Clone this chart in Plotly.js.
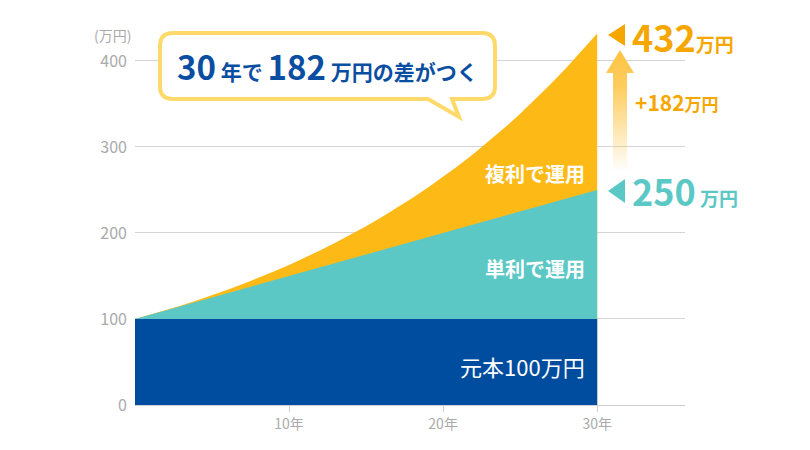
<!DOCTYPE html>
<html><head><meta charset="utf-8">
<script src="https://cdn.plot.ly/plotly-3.0.1.min.js"></script>
<style>body{margin:0;background:#fff}#c{width:810px;height:450px}</style>
</head><body><div id="c"></div>
<script>
// Data
const years = [0,1,2,3,4,5,6,7,8,9,10,11,12,13,14,15,16,17,18,19,20,21,22,23,24,25,26,27,28,29,30];
const compound = [100,105,110.3,115.8,121.6,127.6,134,140.7,147.7,155.1,162.9,171,179.6,188.6,198,207.9,218.3,229.2,240.7,252.7,265.3,278.6,292.5,307.2,322.5,338.6,355.6,373.4,392,411.6,432];
const simple = [100,105,110,115,120,125,130,135,140,145,150,155,160,165,170,175,180,185,190,195,200,205,210,215,220,225,230,235,240,245,250];
const principal = years.map(() => 100);
const yTicks = [0,100,200,300,400];
const xTicks = [10,20,30];
const xTickLabels = ["10年","20年","30年"];

const NAVY = "#004DA0", TEAL = "#5BC8C6", YEL = "#FDBA17", ORANGE = "#F5A700";
const FONT = "Noto Sans CJK JP";

// pixel -> paper helpers (plot area: x 135..685, y 30..405)
const L = 135, R = 685, T = 30, B = 405;
const px = x => (x - L) / (R - L);
const py = y => (B - y) / (B - T);
const P = (x, y) => px(x).toFixed(5) + "," + py(y).toFixed(5);

function bubblePath() {
  const x0 = 160, x1 = 495, y0 = 33, y1 = 99, r = 13;
  return "M" + P(x0 + r, y0) + " L" + P(x1 - r, y0) + " Q" + P(x1, y0) + " " + P(x1, y0 + r) +
    " L" + P(x1, y1 - r) + " Q" + P(x1, y1) + " " + P(x1 - r, y1) +
    " L" + P(452, y1) + " L" + P(459, 117) + " L" + P(428, y1) +
    " L" + P(x0 + r, y1) + " Q" + P(x0, y1) + " " + P(x0, y1 - r) +
    " L" + P(x0, y0 + r) + " Q" + P(x0, y0) + " " + P(x0 + r, y0) + " Z";
}
function tri(tipx, tipy, bx, ytop, ybot) {
  return "M" + P(tipx, tipy) + " L" + P(bx, ytop) + " L" + P(bx, ybot) + " Z";
}

const arrowSvg = '<svg xmlns="http://www.w3.org/2000/svg" width="28" height="122" viewBox="0 0 28 122">' +
  '<defs><linearGradient id="g" x1="0" y1="0" x2="0" y2="1">' +
  '<stop offset="0" stop-color="#FDC443" stop-opacity="1"/>' +
  '<stop offset="0.3" stop-color="#FDC443" stop-opacity="0.85"/>' +
  '<stop offset="1" stop-color="#FDC443" stop-opacity="0"/></linearGradient></defs>' +
  '<path d="M14 0 L28 23 L21 23 L21 122 L7 122 L7 23 L0 23 Z" fill="url(#g)"/></svg>';

const traces = [
  {x: years, y: compound, type: "scatter", mode: "lines", fill: "tozeroy", fillcolor: YEL, line: {width: 0, color: YEL}, hoverinfo: "skip"},
  {x: years, y: simple, type: "scatter", mode: "lines", fill: "tozeroy", fillcolor: TEAL, line: {width: 0, color: TEAL}, hoverinfo: "skip"},
  {x: years, y: principal, type: "scatter", mode: "lines", fill: "tozeroy", fillcolor: NAVY, line: {width: 0, color: NAVY}, hoverinfo: "skip"}
];

const layout = {
  width: 810, height: 450,
  margin: {l: L, r: 810 - R, t: T, b: 450 - B},
  paper_bgcolor: "#fff", plot_bgcolor: "#fff",
  showlegend: false,
  font: {family: FONT, color: "#aaa"},
  xaxis: {range: [0, 35.7], tickvals: xTicks, ticktext: xTickLabels, showgrid: false, zeroline: false,
    showline: true, linecolor: "#cfcfcf", linewidth: 1, ticks: "outside", ticklen: 6, tickcolor: "#cfcfcf",
    tickfont: {size: 14, color: "#aaa", family: FONT}, fixedrange: true},
  yaxis: {range: [0, 436], tickvals: yTicks, showgrid: true, gridcolor: "#d4d4d4", gridwidth: 1, zeroline: false,
    ticks: "", ticklabelstandoff: 7, tickfont: {size: 16, color: "#aaa", family: FONT}, fixedrange: true},
  shapes: [
    {type: "path", xref: "paper", yref: "paper", path: bubblePath(), fillcolor: "#fff", line: {color: "#FFDA6A", width: 4}},
    {type: "path", xref: "paper", yref: "paper", path: tri(608, 35, 625, 24, 46), fillcolor: ORANGE, line: {width: 0}},
    {type: "path", xref: "paper", yref: "paper", path: tri(608, 191, 625, 179, 203), fillcolor: TEAL, line: {width: 0}}
  ],
  images: [
    {source: "data:image/svg+xml;charset=utf-8," + encodeURIComponent(arrowSvg), xref: "paper", yref: "paper",
      x: px(606), y: py(50), sizex: px(634) - px(606), sizey: py(50) - py(172), sizing: "stretch", xanchor: "left", yanchor: "top", layer: "above"}
  ],
  annotations: [
    {xref: "paper", yref: "paper", x: px(112), y: py(35), text: "(万円)", showarrow: false, xanchor: "center", yanchor: "middle",
      font: {size: 14, color: "#aaa", family: FONT}},
    {xref: "paper", yref: "paper", x: px(327), y: py(66), showarrow: false, xanchor: "center", yanchor: "middle",
      text: "<b><span style='font-size:33px'>30</span> 年で <span style='font-size:33px'>182</span> 万円の差がつく</b>",
      font: {size: 21, color: "#0A4EA2", family: FONT}},
    {xref: "paper", yref: "paper", x: px(587), y: py(173), showarrow: false, xanchor: "right", yanchor: "middle",
      text: "<b>複利で運用</b>", font: {size: 20, color: "#fff", family: FONT}},
    {xref: "paper", yref: "paper", x: px(587), y: py(268), showarrow: false, xanchor: "right", yanchor: "middle",
      text: "<b>単利で運用</b>", font: {size: 20, color: "#fff", family: FONT}},
    {xref: "paper", yref: "paper", x: px(587), y: py(366), showarrow: false, xanchor: "right", yanchor: "middle",
      text: "元本100万円", font: {size: 22, color: "#fff", family: FONT}},
    {xref: "paper", yref: "paper", x: px(630), y: py(36), showarrow: false, xanchor: "left", yanchor: "middle",
      text: "<b><span style='font-size:36px'>432</span>万円</b>", font: {size: 19, color: ORANGE, family: FONT}},
    {xref: "paper", yref: "paper", x: px(633), y: py(102), showarrow: false, xanchor: "left", yanchor: "middle",
      text: "<b><span style='font-size:21px'>+182</span>万円</b>", font: {size: 17, color: ORANGE, family: FONT}},
    {xref: "paper", yref: "paper", x: px(630), y: py(190), showarrow: false, xanchor: "left", yanchor: "middle",
      text: "<b><span style='font-size:36px'>250</span> 万円</b>", font: {size: 19, color: TEAL, family: FONT}}
  ]
};

Plotly.newPlot("c", traces, layout, {displayModeBar: false, staticPlot: true});
</script>
</body></html>
